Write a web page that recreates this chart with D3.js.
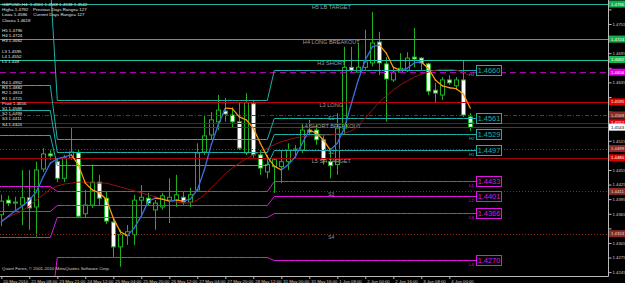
<!DOCTYPE html>
<html lang="en">
<head>
<meta charset="UTF-8">
<title>GBPUSD,H4</title>
<style>
body{margin:0;background:#000;}
svg{display:block;font-family:"Liberation Sans",Arial,sans-serif;}
</style>
</head>
<body>
<script src="https://d3js.org/d3.v7.min.js"></script>
<script>
var width = 625, height = 283;
var plotW = 608, plotH = 276;

// H4 bars
var opens  = [1.4363,1.4393,1.4387,1.4383,1.4398,1.4379,1.4457,1.4488,1.4472,1.4438,1.4480,1.4490,1.4365,1.4383,1.4430,1.4397,1.4348,1.4297,1.4320,1.4322,1.4393,1.4397,1.4373,1.4379,1.4393,1.4393,1.4399,1.4389,1.4414,1.4492,1.4527,1.4554,1.4576,1.4568,1.4554,1.4490,1.4591,1.4486,1.4451,1.4462,1.4462,1.4472,1.4496,1.4496,1.4537,1.4537,1.4517,1.4472,1.4466,1.4541,1.4666,1.4656,1.4666,1.4675,1.4718,1.4673,1.4640,1.4656,1.4660,1.4687,1.4685,1.4673,1.4619,1.4609,1.4640,1.4628,1.4640,1.4564];
var highs  = [1.4404,1.4402,1.4400,1.4455,1.4455,1.4472,1.4500,1.4496,1.4480,1.4486,1.4541,1.4496,1.4414,1.4466,1.4445,1.4410,1.4358,1.4332,1.4342,1.4404,1.4424,1.4408,1.4393,1.4408,1.4438,1.4445,1.4410,1.4418,1.4510,1.4568,1.4574,1.4609,1.4603,1.4584,1.4593,1.4613,1.4599,1.4496,1.4486,1.4480,1.4496,1.4510,1.4506,1.4548,1.4558,1.4548,1.4527,1.4500,1.4572,1.4708,1.4708,1.4716,1.4743,1.4780,1.4739,1.4687,1.4666,1.4695,1.4697,1.4747,1.4687,1.4675,1.4634,1.4646,1.4650,1.4646,1.4681,1.4572];
var lows   = [1.4340,1.4381,1.4373,1.4342,1.4332,1.4318,1.4451,1.4476,1.4430,1.4430,1.4476,1.4356,1.4356,1.4377,1.4383,1.4344,1.4276,1.4256,1.4301,1.4301,1.4363,1.4381,1.4332,1.4373,1.4346,1.4379,1.4383,1.4379,1.4410,1.4486,1.4517,1.4537,1.4554,1.4541,1.4496,1.4486,1.4480,1.4445,1.4438,1.4408,1.4428,1.4455,1.4480,1.4490,1.4527,1.4507,1.4466,1.4438,1.4445,1.4527,1.4656,1.4656,1.4660,1.4668,1.4650,1.4554,1.4636,1.4656,1.4656,1.4666,1.4660,1.4609,1.4593,1.4599,1.4630,1.4619,1.4564,1.4535];
var closes = [1.4391,1.4387,1.4389,1.4398,1.4377,1.4455,1.4488,1.4484,1.4438,1.4480,1.4492,1.4360,1.4383,1.4430,1.4397,1.4350,1.4297,1.4322,1.4328,1.4393,1.4399,1.4387,1.4387,1.4402,1.4399,1.4404,1.4389,1.4404,1.4490,1.4525,1.4558,1.4578,1.4570,1.4554,1.4500,1.4593,1.4486,1.4459,1.4466,1.4476,1.4472,1.4496,1.4498,1.4537,1.4533,1.4517,1.4476,1.4464,1.4541,1.4666,1.4660,1.4666,1.4677,1.4716,1.4675,1.4642,1.4656,1.4664,1.4685,1.4683,1.4675,1.4617,1.4613,1.4640,1.4634,1.4640,1.4568,1.4543];

// moving averages
var fastMA = [1.4348,1.4360,1.4371,1.4381,1.4393,1.4410,1.4441,1.4469,1.4478,1.4482,1.4486,1.4466,1.4428,1.4414,1.4408,1.4395,1.4356,1.4328,1.4320,1.4336,1.4360,1.4391,1.4397,1.4395,1.4391,1.4393,1.4391,1.4395,1.4414,1.4455,1.4507,1.4548,1.4582,1.4581,1.4564,1.4558,1.4541,1.4510,1.4482,1.4463,1.4455,1.4466,1.4482,1.4510,1.4537,1.4531,1.4517,1.4496,1.4510,1.4541,1.4591,1.4640,1.4681,1.4708,1.4712,1.4695,1.4666,1.4660,1.4664,1.4675,1.4677,1.4664,1.4640,1.4628,1.4624,1.4622,1.4611,1.4582];
var slowMA = [1.4352,1.4358,1.4365,1.4371,1.4381,1.4393,1.4404,1.4416,1.4422,1.4426,1.4428,1.4430,1.4430,1.4428,1.4428,1.4428,1.4424,1.4420,1.4416,1.4412,1.4408,1.4404,1.4400,1.4395,1.4391,1.4389,1.4387,1.4387,1.4393,1.4404,1.4418,1.4432,1.4447,1.4459,1.4469,1.4478,1.4486,1.4492,1.4500,1.4507,1.4513,1.4517,1.4521,1.4523,1.4525,1.4525,1.4527,1.4527,1.4529,1.4531,1.4535,1.4546,1.4562,1.4578,1.4595,1.4607,1.4619,1.4630,1.4638,1.4646,1.4652,1.4656,1.4660,1.4662,1.4662,1.4660,1.4656,1.4648];

// time axis
var timeTickBars   = [0,4,8,12,16,20,24,28,32,36,40,44,48,52,56,60,64];
var timeTickLabels = ["20 May 2010","21 May 08:00","23 May 21:00","24 May 12:00","25 May 04:00","25 May 20:00","26 May 12:00","27 May 04:00","27 May 20:00","28 May 12:00","31 May 00:00","31 May 16:00","1 Jun 08:00","2 Jun 00:00","2 Jun 16:00","3 Jun 08:00","4 Jun 00:00"];
var priceTicks = [1.4785,1.4755,1.4725,1.4695,1.4665,1.4635,1.4605,1.4575,1.4545,1.4515,1.4485,1.4455,1.4425,1.4395,1.4365,1.4335,1.4305,1.4275,1.4245];

// weekly camarilla levels (stepped lines)
var weekStarts = [0, 8, 39];
var camNames = ["H4","H3","H2","H1","L1","L2","L3","L4"];
var camWeek1 = [1.4840,1.4630,1.4578,1.4526,1.4422,1.4370,1.4318,1.4162];
var camWeek2 = [1.4599,1.4518,1.4492,1.4465,1.4411,1.4384,1.4358,1.4277];
var camWeek3 = [1.4660,1.4561,1.4529,1.4497,1.4433,1.4401,1.4366,1.4270];

// daily levels (full width)
var levelNames  = ["H5","H4","H3","Pivot","S1","L3","L4","S2","L5","S3","S4"];
var levelValues = [1.4796,1.4724,1.4682,1.4656,1.4568,1.4595,1.4552,1.4499,1.4480,1.4411,1.4324];
var levelTags   = ["H5 LB TARGET","H4 LONG BREAKOUT","H3 SHORT","","S1","L3 LONG","L4 SHORT BREAKOUT","S2","L5 SH TARGET","S3","S4"];

var infoLines = ["GBPUSD,H4  1.4561 1.4568 1.4538 1.4542","High= 1.4792    Previous Days Range= 127","Low= 1.4586     Current Days Range= 127","Close= 1.4618","",
  "H5 1.4796","H4 1.4724","H3 1.4682","","L3 1.4595","L4 1.4552","L5 1.448","","","",
  "R4 1.4952","R3 1.4882","R2 1.4813","R1 1.4721","Pivot 1.4656","S1 1.4588","S2 1.4499","S3 1.4411","S4 1.4324"];

var levelStyle = {
  H5:{c:"#1fb3a3",dash:null,box:"#0fae50",txt:"#fff"},
  H4:{c:"#1fb3a3",dash:null,box:"#0fae50",txt:"#fff"},
  H3:{c:"#22c6a8",dash:null,box:"#0fbe50",txt:"#fff"},
  Pivot:{c:"#b000b0",dash:"6,4",box:"#e000e0",txt:"#fff"},
  S1:{c:"#8a2a10",dash:"4,2,1,2",box:"#8a2a2a",txt:"#ddd"},
  L3:{c:"#c00010",dash:null,box:"#e00000",txt:"#fff"},
  L4:{c:"#a00020",dash:null,box:"#e00010",txt:"#fff"},
  S2:{c:"#8a2a10",dash:"1,2",box:"#8a2a2a",txt:"#ddd"},
  L5:{c:"#a00008",dash:null,box:"#e00000",txt:"#fff"},
  S3:{c:"#8a2a10",dash:"1,2",box:"#8a2a2a",txt:"#ddd"},
  S4:{c:"#8a2a10",dash:"1,2",box:"#8a2a2a",txt:"#ddd"}
};

var svg = d3.select("body").append("svg").attr("width",width).attr("height",height).style("background","#000");

var xScale = d3.scaleLinear().domain([0, opens.length-1]).range([1.3, 470.3]);
var yScale = d3.scaleLinear().domain([1.42371, 1.48043]).range([plotH, 0]);

function crisp(v){ return Math.round(v) + 0.5; }

svg.append("defs").append("clipPath").attr("id","plotClip")
  .append("rect").attr("x",0).attr("y",0).attr("width",plotW).attr("height",plotH);
var plot = svg.append("g").attr("clip-path","url(#plotClip)");

// candles
var bars = d3.range(opens.length);
plot.selectAll(".wick").data(bars).enter().append("line")
  .attr("x1",function(i){ return crisp(xScale(i)); })
  .attr("x2",function(i){ return crisp(xScale(i)); })
  .attr("y1",function(i){ return yScale(highs[i]); })
  .attr("y2",function(i){ return yScale(lows[i]); })
  .attr("stroke","#1fb01f").attr("stroke-width",1);

plot.selectAll(".body").data(bars).enter().append("rect")
  .attr("x",function(i){ return Math.round(xScale(i)) - 2 + 0.5; })
  .attr("width",4)
  .attr("y",function(i){ return yScale(Math.max(opens[i],closes[i])); })
  .attr("height",function(i){ return Math.max(1, Math.abs(yScale(opens[i]) - yScale(closes[i]))); })
  .attr("fill",function(i){ return closes[i] >= opens[i] ? "#000" : "#fff"; })
  .attr("stroke","#1fb01f").attr("stroke-width",1);

// daily level lines
plot.selectAll(".level").data(levelNames).enter().append("line")
  .attr("x1",0).attr("x2",plotW)
  .attr("y1",function(d,i){ return crisp(yScale(levelValues[i])); })
  .attr("y2",function(d,i){ return crisp(yScale(levelValues[i])); })
  .attr("stroke",function(d){ return levelStyle[d].c; })
  .attr("stroke-dasharray",function(d){ return levelStyle[d].dash; });

// bid line
plot.append("line").attr("x1",0).attr("x2",plotW)
  .attr("y1",crisp(yScale(closes[closes.length-1]))).attr("y2",crisp(yScale(closes[closes.length-1])))
  .attr("stroke","#2f4a30");

plot.selectAll(".tag").data(levelNames).enter().append("text")
  .attr("x",xScale(47) + 1)
  .attr("y",function(d,i){ return yScale(levelValues[i]) + 5; })
  .attr("text-anchor","middle")
  .attr("font-size",function(d){ return d.length == 2 && d[0] == "S" ? 4.8 : 5.6; })
  .attr("fill","#9c9c9c")
  .text(function(d,i){ return levelTags[i]; });

// weekly stepped lines
var weeks = [camWeek1, camWeek2, camWeek3];
function weekOf(k){ return d3.bisectRight(weekStarts, k) - 1; }
var boxX = 476;
var stepLine = d3.line();
camNames.forEach(function(name, j){
  var col = name[0] == "H" ? "#1eb0a8" : "#e014e0";
  var pts = bars.map(function(k){ return [xScale(k), crisp(yScale(weeks[weekOf(k)][j]))]; });
  pts.unshift([0, pts[0][1]]);
  pts.push([boxX, pts[pts.length-1][1]]);
  plot.append("path").attr("d",stepLine(pts)).attr("fill","none").attr("stroke",col).attr("stroke-width",1);
  var yl = crisp(yScale(camWeek3[j]));
  plot.append("rect").attr("x",boxX+0.5).attr("y",yl-5).attr("width",25).attr("height",10)
    .attr("fill","#000").attr("stroke",col);
  plot.append("text").attr("x",boxX+13).attr("y",yl+2.6).attr("text-anchor","middle")
    .attr("font-size",7.4).attr("fill",col).text(d3.format(".4f")(camWeek3[j]));
  plot.append("text").attr("x",boxX-7).attr("y",yl+5.5).attr("font-size",4.3).attr("fill",col).text(name);
});

// moving averages
plot.append("path").datum(bars)
  .attr("d",d3.line().x(function(i){ return xScale(i); }).y(function(i){ return yScale(slowMA[i]); }))
  .attr("fill","none").attr("stroke","#9a0f0f").attr("stroke-width",1);

plot.selectAll(".fast").data(bars.slice(1)).enter().append("line")
  .attr("x1",function(i){ return xScale(i-1); })
  .attr("y1",function(i){ return yScale(fastMA[i-1]); })
  .attr("x2",function(i){ return xScale(i); })
  .attr("y2",function(i){ return yScale(fastMA[i]); })
  .attr("stroke",function(i){ return fastMA[i] >= fastMA[i-1] ? "#3c6ee0" : "#ff9a10"; })
  .attr("stroke-width",1.3).attr("stroke-linecap","round");

// info text
svg.selectAll(".info").data(infoLines).enter().append("text")
  .attr("x",2).attr("y",function(d,i){ return 6 + 5.2*i; })
  .attr("font-size",4.4).attr("fill","#e2e2e2")
  .attr("xml:space","preserve").style("white-space","pre")
  .text(function(d){ return d; });

svg.append("text").attr("x",2).attr("y",270).attr("font-size",4.4).attr("fill","#cfcfcf")
  .text("Quant Forex, \u00a9 2001-2010 MetaQuotes Software Corp.");

// axes
var xAxis = d3.axisBottom(xScale).tickValues(timeTickBars).tickSize(3)
  .tickFormat(function(d,i){ return timeTickLabels[i]; });
var gx = svg.append("g").attr("transform","translate(0," + plotH + ")").call(xAxis);
gx.select(".domain").remove();
gx.selectAll(".tick line").attr("stroke","#bbb");
gx.selectAll(".tick text").attr("text-anchor","start").attr("x",1.5).attr("y",3.6).attr("dy","0.71em")
  .attr("font-size",4.3).attr("fill","#cfcfcf");

// value boxes on the price axis cover the tick labels they sit on
var boxVals = levelValues.concat([closes[closes.length-1]]);
var boxNames = levelNames.concat(["Bid"]);
var boxYs = boxVals.map(function(v){ return yScale(v); });

var yAxis = d3.axisRight(yScale).tickValues(priceTicks).tickSize(3).tickFormat(d3.format(".4f"));
var gy = svg.append("g").attr("transform","translate(" + (plotW + 0.5) + ",0)").call(yAxis);
gy.select(".domain").remove();
gy.selectAll(".tick line").attr("stroke","#bbb");
gy.selectAll(".tick text").attr("x",4).attr("font-size",4.3).attr("fill","#cfcfcf")
  .style("display",function(d){
    var ty = yScale(d);
    return boxYs.some(function(b){ return Math.abs(b - ty) < 6; }) ? "none" : null;
  });

svg.append("line").attr("x1",plotW+0.5).attr("x2",plotW+0.5).attr("y1",0).attr("y2",plotH+0.5).attr("stroke","#bbb");
svg.append("line").attr("x1",0).attr("x2",plotW+0.5).attr("y1",plotH+0.5).attr("y2",plotH+0.5).attr("stroke","#bbb");

svg.selectAll(".pbox").data(boxNames).enter().append("rect")
  .attr("x",plotW+1).attr("width",16)
  .attr("y",function(d,i){ return boxYs[i] - 3.5; }).attr("height",7)
  .attr("fill",function(d){ return d == "Bid" ? "#fff" : levelStyle[d].box; });
svg.selectAll(".ptxt").data(boxNames).enter().append("text")
  .attr("x",plotW+3).attr("y",function(d,i){ return boxYs[i] + 1.6; })
  .attr("font-size",4.3)
  .attr("fill",function(d){ return d == "Bid" ? "#000" : levelStyle[d].txt; })
  .text(function(d,i){ return d3.format(".4f")(boxVals[i]); });
</script>
</body>
</html>
